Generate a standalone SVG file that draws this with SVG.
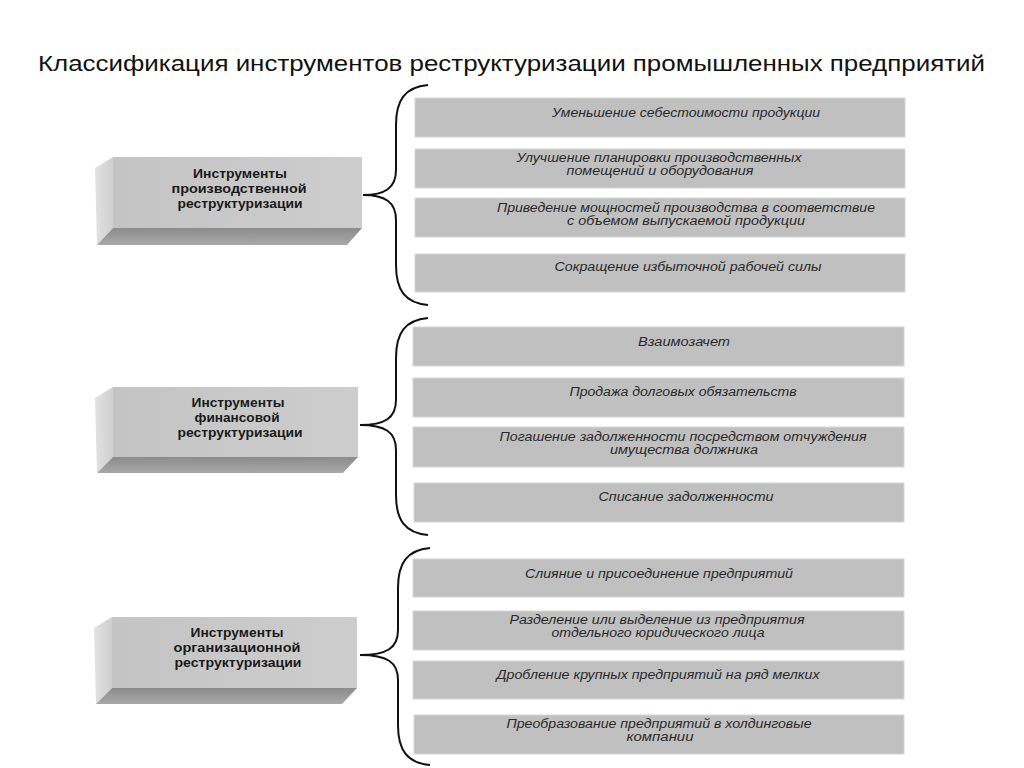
<svg xmlns="http://www.w3.org/2000/svg" width="1024" height="768" viewBox="0 0 1024 768">
<defs>
<linearGradient id="side" x1="0" y1="0" x2="1" y2="0"><stop offset="0" stop-color="#e2e2e2"/><stop offset="1" stop-color="#cfcfcf"/></linearGradient>
<linearGradient id="bot" x1="0" y1="0" x2="0" y2="1"><stop offset="0" stop-color="#8c8c8c"/><stop offset="1" stop-color="#a8a8a8"/></linearGradient>
<linearGradient id="front" x1="0" y1="0" x2="1" y2="0"><stop offset="0" stop-color="#c4c4c4"/><stop offset="1" stop-color="#cdcdcd"/></linearGradient>
</defs>
<style>
.title{font-family:"Liberation Sans",Arial,sans-serif;font-size:22px;fill:#111}
.cat{font-family:"Liberation Sans",Arial,sans-serif;font-size:13px;font-weight:bold;fill:#1a1a1a;text-anchor:middle}
.item{fill:#c0c0c0;stroke:#d6d6d6;stroke-width:1}
.it{font-family:"Liberation Sans",Arial,sans-serif;font-size:12px;font-style:italic;fill:#2a2a2a;text-anchor:middle}
.brace{fill:none;stroke:#111;stroke-width:2}
.front{fill:url(#front)}
.side{fill:url(#side)}
.bot{fill:url(#bot)}
</style>
<rect width="1024" height="768" fill="#fff"/>
<text class="title" x="38" y="71" textLength="947" lengthAdjust="spacingAndGlyphs">Классификация  инструментов реструктуризации промышленных предприятий</text>

<g id="cat1">
<polygon class="side" points="95,168 113,157 113,228 97,245"/>
<polygon class="bot" points="113,228 362,228 347,245 97,245"/>
<rect class="front" x="113" y="157" width="249" height="71"/>
<text class="cat" x="240" y="178" textLength="94" lengthAdjust="spacingAndGlyphs">Инструменты</text>
<text class="cat" x="239" y="193" textLength="135" lengthAdjust="spacingAndGlyphs">производственной</text>
<text class="cat" x="240" y="208" textLength="125" lengthAdjust="spacingAndGlyphs">реструктуризации</text>
</g>
<g id="cat2">
<polygon class="side" points="95,398 113,387 113,457 97,473"/>
<polygon class="bot" points="113,457 358,457 343,473 97,473"/>
<rect class="front" x="113" y="387" width="245" height="70"/>
<text class="cat" x="238" y="407" textLength="93" lengthAdjust="spacingAndGlyphs">Инструменты</text>
<text class="cat" x="237" y="422" textLength="85" lengthAdjust="spacingAndGlyphs">финансовой</text>
<text class="cat" x="240" y="437" textLength="125" lengthAdjust="spacingAndGlyphs">реструктуризации</text>
</g>
<g id="cat3">
<polygon class="side" points="94,628 112,617 112,688 96,704"/>
<polygon class="bot" points="112,688 357,688 342,704 96,704"/>
<rect class="front" x="112" y="617" width="245" height="71"/>
<text class="cat" x="237" y="637" textLength="93" lengthAdjust="spacingAndGlyphs">Инструменты</text>
<text class="cat" x="237" y="652" textLength="127" lengthAdjust="spacingAndGlyphs">организационной</text>
<text class="cat" x="238" y="667" textLength="127" lengthAdjust="spacingAndGlyphs">реструктуризации</text>
</g>

<g id="connectors">
<path class="brace" d="M428,85 C405,87 396,100 396,125 L396,170 C396,188 385,195 363,195 C385,195 396,202 396,220 L396,265 C396,290 405,303 428,305"/>
<path class="brace" d="M428,318 C405,320 396,333 396,358 L396,400 C396,418 385,425 360,425 C385,425 396,432 396,450 L396,495 C396,520 405,533 428,535"/>
<path class="brace" d="M430,548 C407,550 398,563 398,588 L398,630 C398,648 387,655 360,655 C387,655 398,662 398,680 L398,725 C398,750 407,763 430,765"/>
</g>

<g id="i1"><rect class="item" x="415" y="98" width="490" height="39"/><text class="it" x="686" y="117" textLength="268" lengthAdjust="spacingAndGlyphs">Уменьшение себестоимости продукции</text></g>
<g id="i2"><rect class="item" x="415" y="149" width="490" height="39"/><text class="it" x="659" y="162" textLength="285" lengthAdjust="spacingAndGlyphs">Улучшение планировки производственных</text><text class="it" x="660" y="175" textLength="187" lengthAdjust="spacingAndGlyphs">помещений и оборудования</text></g>
<g id="i3"><rect class="item" x="415" y="198" width="490" height="39"/><text class="it" x="686" y="212" textLength="378" lengthAdjust="spacingAndGlyphs">Приведение мощностей производства в соответствие</text><text class="it" x="686" y="225" textLength="238" lengthAdjust="spacingAndGlyphs">с объемом выпускаемой продукции</text></g>
<g id="i4"><rect class="item" x="415" y="254" width="490" height="38"/><text class="it" x="688" y="271" textLength="267" lengthAdjust="spacingAndGlyphs">Сокращение избыточной рабочей силы</text></g>

<g id="i5"><rect class="item" x="413" y="327" width="491" height="39"/><text class="it" x="684" y="346" textLength="92" lengthAdjust="spacingAndGlyphs">Взаимозачет</text></g>
<g id="i6"><rect class="item" x="413" y="378" width="491" height="39"/><text class="it" x="683" y="396" textLength="227" lengthAdjust="spacingAndGlyphs">Продажа долговых обязательств</text></g>
<g id="i7"><rect class="item" x="413" y="427" width="491" height="40"/><text class="it" x="683" y="440.5" textLength="367" lengthAdjust="spacingAndGlyphs">Погашение задолженности посредством отчуждения</text><text class="it" x="684" y="453.5" textLength="148" lengthAdjust="spacingAndGlyphs">имущества должника</text></g>
<g id="i8"><rect class="item" x="414" y="483" width="490" height="39"/><text class="it" x="686" y="501" textLength="175" lengthAdjust="spacingAndGlyphs">Списание задолженности</text></g>

<g id="i9"><rect class="item" x="413" y="559" width="491" height="38"/><text class="it" x="659" y="578" textLength="268" lengthAdjust="spacingAndGlyphs">Слияние и присоединение предприятий</text></g>
<g id="i10"><rect class="item" x="413" y="611" width="491" height="39"/><text class="it" x="657" y="623.5" textLength="295" lengthAdjust="spacingAndGlyphs">Разделение или выделение из предприятия</text><text class="it" x="658" y="636.5" textLength="213" lengthAdjust="spacingAndGlyphs">отдельного юридического лица</text></g>
<g id="i11"><rect class="item" x="413" y="661" width="491" height="38"/><text class="it" x="658" y="679" textLength="323" lengthAdjust="spacingAndGlyphs">Дробление крупных предприятий на ряд мелких</text></g>
<g id="i12"><rect class="item" x="414" y="715" width="490" height="39"/><text class="it" x="659" y="727.5" textLength="305" lengthAdjust="spacingAndGlyphs">Преобразование предприятий в холдинговые</text><text class="it" x="660" y="740.5" textLength="67" lengthAdjust="spacingAndGlyphs">компании</text></g>
</svg>
